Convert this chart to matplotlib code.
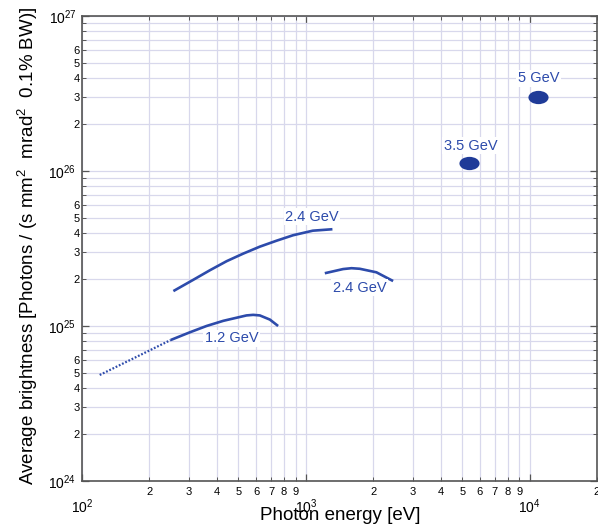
import numpy as np
import matplotlib
matplotlib.use("Agg")
import matplotlib.pyplot as plt
from matplotlib.path import Path
from matplotlib.transforms import Affine2D
from matplotlib.ticker import LogLocator, FuncFormatter, LogFormatterMathtext

plt.rcParams['font.family'] = ['Liberation Sans', 'DejaVu Sans']
plt.rcParams['mathtext.fontset'] = 'custom'
plt.rcParams['mathtext.rm'] = 'Liberation Sans'
plt.rcParams['mathtext.it'] = 'Liberation Sans:italic'
plt.rcParams['mathtext.bf'] = 'Liberation Sans:bold'

# ---- data ----
e_24_upper = [256, 313, 373, 443, 525, 623, 740, 877, 1074, 1315]
b_24_upper = [1.68e25, 1.98e25, 2.29e25, 2.62e25, 2.93e25, 3.25e25, 3.55e25, 3.85e25, 4.12e25, 4.21e25]

e_12_dotted = [120, 249]
b_12_dotted = [4.83e24, 8.12e24]

e_12 = [249, 303, 360, 428, 543, 582, 623, 691, 752]
b_12 = [8.12e24, 9.1e24, 1.0e25, 1.08e25, 1.17e25, 1.18e25, 1.17e25, 1.10e25, 1.0e25]

e_24_lower = [1216, 1468, 1600, 1742, 2068, 2455]
b_24_lower = [2.19e25, 2.33e25, 2.36e25, 2.34e25, 2.22e25, 1.95e25]

e_spots = [5350, 10860]
b_spots = [1.12e26, 3.0e26]

labels_text = ["2.4 GeV", "1.2 GeV", "2.4 GeV", "3.5 GeV", "5 GeV"]
labels_e = [1064, 466, 1742, 5433, 10940]
labels_b = [5.07e25, 8.34e24, 1.766e25, 1.456e26, 3.96e26]

xlim = (1e2, 2e4)
ylim = (1e24, 1e27)

line_color = '#2d4bab'
spot_color = '#1f3b98'

fig = plt.figure(figsize=(5.98, 5.29), dpi=100)
ax = fig.add_axes([82/598, 48/529, 515/598, 465/529])
ax.set_xscale('log')
ax.set_yscale('log')
ax.set_xlim(*xlim)
ax.set_ylim(*ylim)

ax.plot(e_24_upper, b_24_upper, color=line_color, lw=1.9, solid_capstyle='butt', zorder=3)
ax.plot(e_12, b_12, color=line_color, lw=1.9, solid_capstyle='butt', zorder=3)
ax.plot(e_12_dotted, b_12_dotted, color=line_color, lw=1.6, linestyle=(0, (0.8, 0.8)), zorder=3)
ax.plot(e_24_lower, b_24_lower, color=line_color, lw=1.9, solid_capstyle='butt', zorder=3)

circle = Path.unit_circle()
ell = Affine2D().scale(1.0, 0.66).transform_path(circle)
ax.plot(e_spots, b_spots, linestyle='none', marker=ell, markersize=14.5,
        color=spot_color, markeredgewidth=0, zorder=4)

for t, xe, yb in zip(labels_text, labels_e, labels_b):
    ax.text(xe, yb, t, color=line_color, fontsize=10.5, ha='center', va='center',
            bbox=dict(facecolor='white', edgecolor='none', pad=1.0), zorder=5)

# ticks
ax.xaxis.set_major_locator(LogLocator(base=10, numticks=10))
ax.xaxis.set_minor_locator(LogLocator(base=10, subs=np.arange(2, 10), numticks=20))
ax.yaxis.set_major_locator(LogLocator(base=10, numticks=10))
ax.yaxis.set_minor_locator(LogLocator(base=10, subs=np.arange(2, 10), numticks=20))
ax.xaxis.set_major_formatter(LogFormatterMathtext())
ax.yaxis.set_major_formatter(LogFormatterMathtext())

def minor_x(v, pos):
    d = int(round(v / 10 ** np.floor(np.log10(v) + 1e-9)))
    return str(d)

def minor_y(v, pos):
    d = int(round(v / 10 ** np.floor(np.log10(v) + 1e-9)))
    return str(d) if 2 <= d <= 6 else ''

ax.xaxis.set_minor_formatter(FuncFormatter(minor_x))
ax.yaxis.set_minor_formatter(FuncFormatter(minor_y))

ax.tick_params(which='both', direction='in', top=True, right=True, color='#555555')
ax.tick_params(which='major', length=5, width=0.9)
ax.tick_params(which='minor', length=3, width=0.7)
ax.tick_params(axis='x', which='minor', labelsize=8, pad=4)
ax.tick_params(axis='x', which='major', labelsize=10, pad=12)
ax.tick_params(axis='y', which='minor', labelsize=8, pad=1.5)
ax.tick_params(axis='y', which='major', labelsize=10, pad=4)

ax.grid(True, which='both', color='#d8d8ec', lw=0.9)
ax.set_axisbelow(True)
for s in ax.spines.values():
    s.set_color('#555555')
    s.set_linewidth(1.2)

ax.set_xlabel('Photon energy [eV]', fontsize=13.5)
ax.xaxis.set_label_coords(0.501, -0.055)
ax.set_ylabel(r'Average brightness [Photons / (s mm$^2$  mrad$^2$  0.1% BW)]', fontsize=13.5)
ax.yaxis.set_label_coords(-0.082, 0.506)

fig.savefig('out.png', dpi=100)
